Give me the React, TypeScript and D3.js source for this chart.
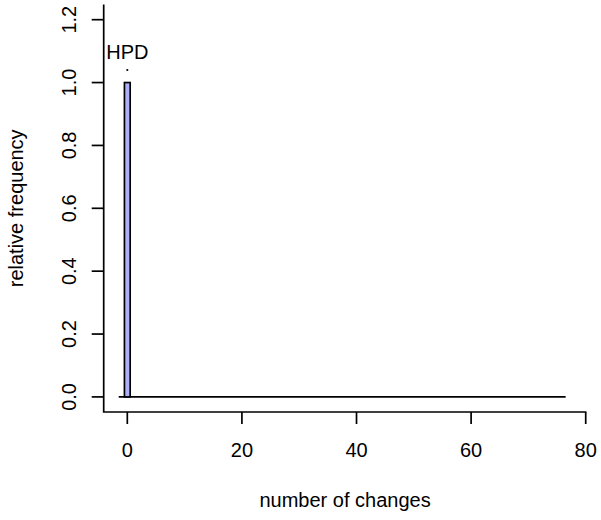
import React from "react";
import * as d3 from "d3";

// Histogram bins (number of changes), one unit wide, centred on integers
const binStart = -1;
const binEnd = 76;
// Observed numbers of changes and their relative frequencies (all other bins are 0)
const observedChanges = [0];
const observedFreq = [1.0];
// 95% HPD interval of the number of changes
const hpdInterval = [0, 0];

const xTicks = [0, 20, 40, 60, 80];
const yTicks = [0, 0.2, 0.4, 0.6, 0.8, 1.0, 1.2];

const W = 601;
const H = 520;
const FONT = "'Liberation Sans', Arial, Helvetica, sans-serif";

export default function App() {
  const xlim = [-1, 77];
  const ylim = [0, 1.2];
  const xpad = 0.04 * (xlim[1] - xlim[0]);
  const ypad = 0.04 * (ylim[1] - ylim[0]);
  const plotLeft = 103.7;
  const plotRight = 586.4;
  const plotTop = 4.6;
  const plotBottom = 412;

  const x = d3.scaleLinear().domain([xlim[0] - xpad, xlim[1] + xpad]).range([plotLeft, plotRight]);
  const y = d3.scaleLinear().domain([ylim[0] - ypad, ylim[1] + ypad]).range([plotBottom, plotTop]);

  const bins = d3.range(binStart, binEnd + 1).map((c) => {
    const i = observedChanges.indexOf(c);
    return { c, f: i >= 0 ? observedFreq[i] : 0 };
  });
  const filled = bins.filter((b) => b.f > 0);

  const tick = 12;
  const fs = 20;
  const lw = 1.7;

  return (
    <svg width={W} height={H} style={{ position: "absolute", left: 0, top: 0, background: "#fff" }}>
      {/* histogram: baseline under all bins, then non-empty bars */}
      <line
        x1={x(bins[0].c - 0.5)}
        x2={x(bins[bins.length - 1].c + 0.5)}
        y1={y(0)}
        y2={y(0)}
        stroke="#000"
        strokeWidth={lw}
      />
      {filled.map((b) => (
        <rect
          key={b.c}
          x={x(b.c - 0.5)}
          y={y(b.f)}
          width={x(b.c + 0.5) - x(b.c - 0.5)}
          height={y(0) - y(b.f)}
          fill="rgb(176,176,248)"
          stroke="#000"
          strokeWidth={lw}
        />
      ))}

      {/* HPD marker */}
      <line
        x1={x(hpdInterval[0])}
        x2={x(hpdInterval[1])}
        y1={y(1.04)}
        y2={y(1.04)}
        stroke="#000"
        strokeWidth={2.2}
        strokeLinecap="round"
      />
      <text x={x((hpdInterval[0] + hpdInterval[1]) / 2)} y={58.5} textAnchor="middle" fontFamily={FONT} fontSize={fs}>
        HPD
      </text>

      {/* L-shaped box */}
      <path
        d={`M${plotLeft},${plotTop}V${plotBottom}H${plotRight}`}
        fill="none"
        stroke="#000"
        strokeWidth={lw}
      />

      {/* x axis */}
      {xTicks.map((t) => (
        <g key={t}>
          <line x1={x(t)} x2={x(t)} y1={plotBottom} y2={plotBottom + tick} stroke="#000" strokeWidth={lw} />
          <text x={x(t)} y={457} textAnchor="middle" fontFamily={FONT} fontSize={fs}>
            {t}
          </text>
        </g>
      ))}

      {/* y axis */}
      {yTicks.map((t) => (
        <g key={t}>
          <line x1={plotLeft - tick} x2={plotLeft} y1={y(t)} y2={y(t)} stroke="#000" strokeWidth={lw} />
          <text
            transform={`translate(76,${y(t)}) rotate(-90)`}
            textAnchor="middle"
            fontFamily={FONT}
            fontSize={fs}
          >
            {t.toFixed(1)}
          </text>
        </g>
      ))}

      {/* axis titles */}
      <text x={(plotLeft + plotRight) / 2} y={507} textAnchor="middle" fontFamily={FONT} fontSize={fs}>
        number of changes
      </text>
      <text
        transform={`translate(22.5,${(plotTop + plotBottom) / 2}) rotate(-90)`}
        textAnchor="middle"
        fontFamily={FONT}
        fontSize={fs}
      >
        relative frequency
      </text>
    </svg>
  );
}
